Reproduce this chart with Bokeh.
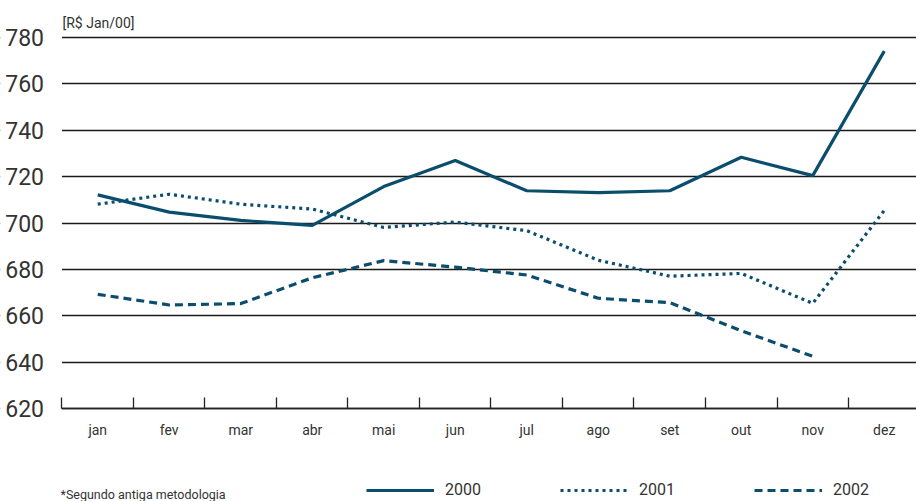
from bokeh.plotting import figure
from bokeh.models import (FixedTicker, Legend, LegendItem, Label, Range1d, BoxAnnotation)
from bokeh.embed import file_html
from bokeh.resources import INLINE

months = ["jan", "fev", "mar", "abr", "mai", "jun", "jul", "ago", "set", "out", "nov", "dez"]
y2000 = [712.1, 704.7, 701.1, 699.0, 715.7, 726.9, 713.9, 713.1, 713.9, 728.3, 720.4, 774.0]
y2001 = [708.1, 712.4, 708.1, 706.0, 698.1, 700.4, 696.7, 684.0, 677.1, 678.3, 665.4, 705.4]
y2002 = [669.3, 664.7, 665.3, 676.4, 683.8, 681.0, 677.6, 667.6, 665.7, 653.6, 642.6]
y_ticks = [620, 640, 660, 680, 700, 720, 740, 760, 780]
unit_label = "[R$ Jan/00]"
footnote = "*Segundo antiga metodologia"

FONT = "Roboto"
COLOR = "#0a4d6d"
TEXT = "#333333"

n = len(months)
x_centers = [i + 0.5 for i in range(n)]

p = figure(width=916, height=501, output_backend="svg", toolbar_location=None,
           x_range=Range1d(-0.860, 11.951), y_range=Range1d(580.1, 795.8),
           min_border=0)
p.outline_line_color = None
p.background_fill_color = "white"
p.border_fill_color = "white"

# x axis fixed at the 620 baseline: labels at category centres, tick marks at boundaries
p.xaxis.fixed_location = y_ticks[0]
p.xaxis.bounds = (0, n)
p.xaxis.ticker = FixedTicker(ticks=x_centers, minor_ticks=list(range(n + 1)))
p.xaxis.major_label_overrides = {c: m for c, m in zip(x_centers, months)}
p.xaxis.major_tick_line_color = None
p.xaxis.minor_tick_in = 11
p.xaxis.minor_tick_out = 0
p.xaxis.minor_tick_line_color = "#222222"
p.xaxis.minor_tick_line_width = 1.3
p.xaxis.axis_line_color = "#222222"
p.xaxis.axis_line_width = 1.5
p.xaxis.major_label_text_font = FONT
p.xaxis.major_label_text_font_size = "14px"
p.xaxis.major_label_text_color = TEXT
p.xaxis.major_label_standoff = 7
p.xgrid.grid_line_color = None

p.yaxis.fixed_location = 0
p.yaxis.ticker = FixedTicker(ticks=y_ticks)
p.yaxis.axis_line_color = None
p.yaxis.major_tick_line_color = None
p.yaxis.minor_tick_line_color = None
p.yaxis.major_label_text_font = FONT
p.yaxis.major_label_text_font_size = "23px"
p.yaxis.major_label_text_color = TEXT
p.yaxis.major_label_standoff = 12
p.ygrid.ticker = FixedTicker(ticks=y_ticks)
p.ygrid.grid_line_color = "#1a1a1a"
p.ygrid.grid_line_width = 1.5

# white mask so the grid lines start at the first category boundary
p.add_layout(BoxAnnotation(right=0, fill_color="white", fill_alpha=1.0,
                           line_color=None, level="underlay"))

r1 = p.line(x_centers, y2000, line_color=COLOR, line_width=3.2)
r2 = p.line(x_centers, y2001, line_color=COLOR, line_width=3.2, line_dash="3 4")
r3 = p.line(x_centers[:len(y2002)], y2002, line_color=COLOR, line_width=3.2, line_dash="8 5")

legend = Legend(items=[LegendItem(label="2000", renderers=[r1]),
                       LegendItem(label="2001", renderers=[r2]),
                       LegendItem(label="2002", renderers=[r3])],
                orientation="horizontal", location=(366, 2),
                glyph_width=68, glyph_height=16, label_height=16,
                label_standoff=11, spacing=79, padding=0, margin=0,
                border_line_color=None, background_fill_alpha=0,
                label_text_font=FONT, label_text_font_size="16px",
                label_text_color=TEXT)
p.add_layout(legend)

p.add_layout(Label(x=62, y=479, x_units="screen", y_units="screen",
                   text=unit_label, text_font=FONT, text_font_size="14px",
                   text_color=TEXT, text_baseline="middle"))
p.add_layout(Label(x=60, y=15, x_units="screen", y_units="screen",
                   text=footnote, text_font=FONT, text_font_size="12.5px",
                   text_color=TEXT, text_baseline="top"))

open("out.html", "w").write(file_html(p, INLINE))
